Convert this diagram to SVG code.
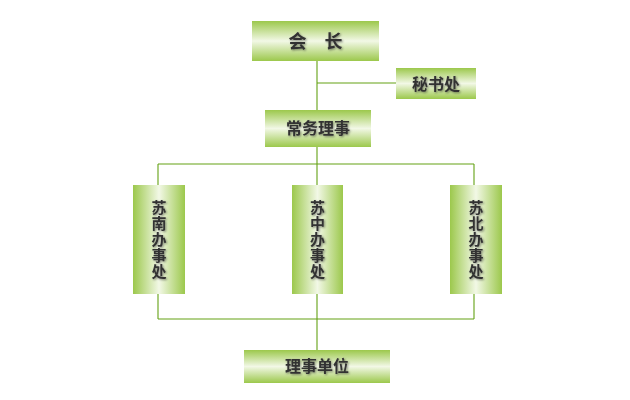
<svg xmlns="http://www.w3.org/2000/svg" width="630" height="400" viewBox="0 0 630 400">
<defs>
<linearGradient id="gv" x1="0" y1="0" x2="0" y2="1">
<stop offset="0" stop-color="#9cc84c"/>
<stop offset="0.5" stop-color="#f2f8e6"/>
<stop offset="1" stop-color="#9cc84c"/>
</linearGradient>
<linearGradient id="gh" x1="0" y1="0" x2="1" y2="0">
<stop offset="0" stop-color="#9cc84c"/>
<stop offset="0.5" stop-color="#f2f8e6"/>
<stop offset="1" stop-color="#9cc84c"/>
</linearGradient>
<filter id="sh" x="-20%" y="-20%" width="140%" height="140%">
<feGaussianBlur in="SourceAlpha" stdDeviation="1"/>
<feOffset dx="1" dy="1" result="b"/>
<feFlood flood-color="#000" flood-opacity="0.45"/>
<feComposite in2="b" operator="in"/>
<feMerge><feMergeNode/><feMergeNode in="SourceGraphic"/></feMerge>
</filter>
</defs>
<style>
.bh{fill:url(#gv)}
.bv{fill:url(#gh)}
.t{font-family:"Noto Sans CJK SC","Noto Sans CJK JP",sans-serif;font-weight:bold;fill:#333;text-anchor:middle;filter:url(#sh)}
.c{stroke:#64a214;stroke-width:1.1;fill:none}
</style>
<rect width="630" height="400" fill="#fff"/>
<g id="connectors">
<path class="c" d="M317 61V110M317 83H396M317 147V164M158 164H474M158 164V185M317 164V185M474 164V185M158 294V319M317 294V319M474 294V319M158 319H474M317 319V350"/>
</g>
<g id="n-huizhang">
<rect class="bh" x="252" y="21" width="127" height="40"/>
<text class="t" x="315.5" y="48" font-size="18">会　长</text>
</g>
<g id="n-mishuchu">
<rect class="bh" x="396" y="68" width="80" height="31"/>
<text class="t" x="436" y="89.5" font-size="16">秘书处</text>
</g>
<g id="n-changwu">
<rect class="bh" x="265" y="110" width="106" height="37"/>
<text class="t" x="318" y="134" font-size="16">常务理事</text>
</g>
<g id="n-sunan">
<rect class="bv" x="133" y="185" width="52" height="109"/>
<text class="t" font-size="15"><tspan x="159" y="213">苏</tspan><tspan x="159" y="229">南</tspan><tspan x="159" y="245">办</tspan><tspan x="159" y="261">事</tspan><tspan x="159" y="277">处</tspan></text>
</g>
<g id="n-suzhong">
<rect class="bv" x="292" y="185" width="51" height="109"/>
<text class="t" font-size="15"><tspan x="317.5" y="213">苏</tspan><tspan x="317.5" y="229">中</tspan><tspan x="317.5" y="245">办</tspan><tspan x="317.5" y="261">事</tspan><tspan x="317.5" y="277">处</tspan></text>
</g>
<g id="n-subei">
<rect class="bv" x="450" y="185" width="52" height="109"/>
<text class="t" font-size="15"><tspan x="476" y="213">苏</tspan><tspan x="476" y="229">北</tspan><tspan x="476" y="245">办</tspan><tspan x="476" y="261">事</tspan><tspan x="476" y="277">处</tspan></text>
</g>
<g id="n-lishidanwei">
<rect class="bh" x="244" y="350" width="146" height="33"/>
<text class="t" x="317" y="372" font-size="16">理事单位</text>
</g>
</svg>
